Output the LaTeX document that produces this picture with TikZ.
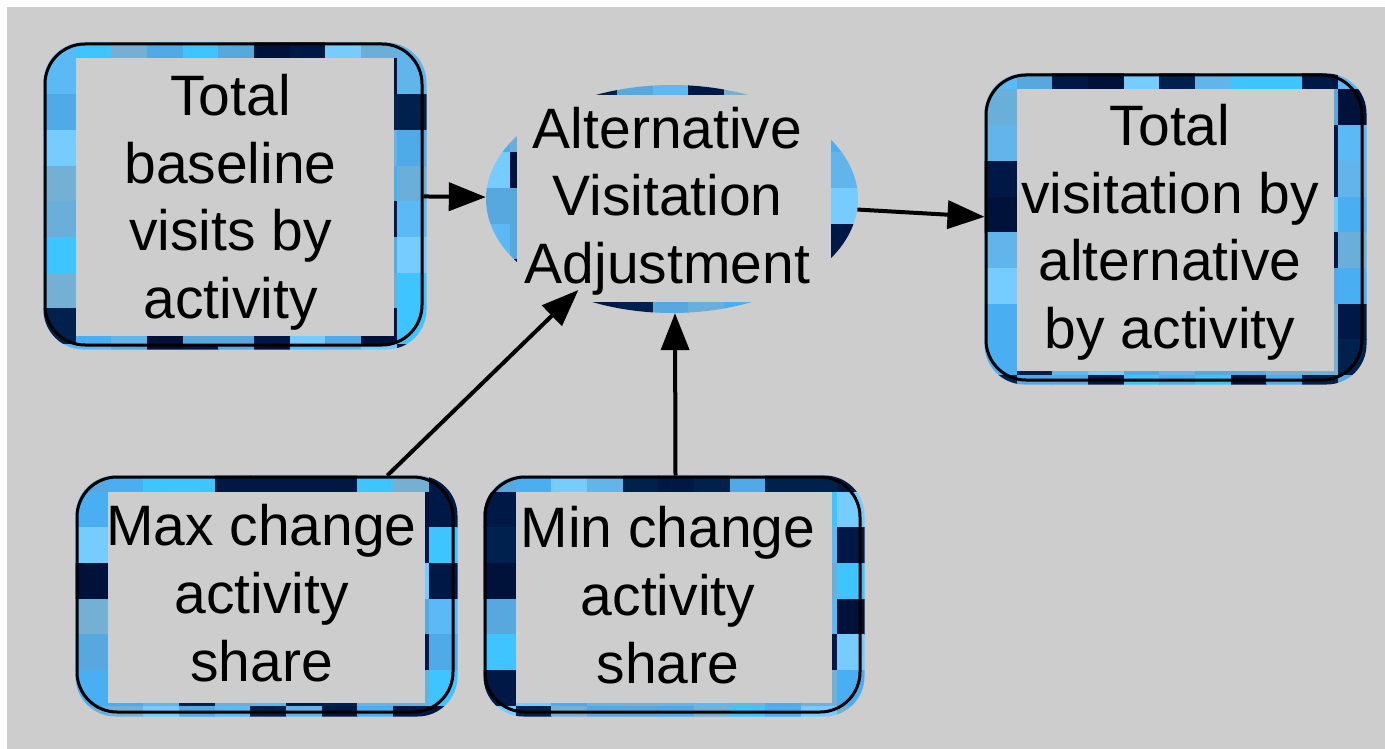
\documentclass[tikz,border=0pt]{standalone}
\usepackage{fontspec}
\setmainfont{Liberation Sans}
\usetikzlibrary{arrows.meta,shapes.geometric,backgrounds}

\definecolor{canvasgray}{HTML}{CDCDCD}
% tile palette for the patchwork borders
\definecolor{navyA}{HTML}{00113A}
\definecolor{navyB}{HTML}{001846}
\definecolor{navyC}{HTML}{00204E}
\definecolor{skyA}{HTML}{5BB9F5}
\definecolor{skyB}{HTML}{4AAEF2}
\definecolor{skyC}{HTML}{62B5EB}
\definecolor{skyD}{HTML}{6AAFDA}
\definecolor{skyE}{HTML}{3EC4FF}
\definecolor{skyF}{HTML}{76CCFF}
\definecolor{skyG}{HTML}{58A8E0}
\definecolor{skyH}{HTML}{74B0D4}
\definecolor{skyI}{HTML}{50AAE8}
\pgfmathdeclarerandomlist{tilepal}{{navyA}{navyB}{navyC}{skyA}{skyB}{skyC}{skyD}{skyE}{skyF}{skyG}{skyH}{skyI}}

% centred lines with a fixed baseline pitch; baseline = first line
\newcommand\lines[1]{\vtop{\baselineskip=68pt\lineskiplimit=-1000pt\lineskip=0pt
  \halign{\hfil##\hfil\cr#1\crcr}}}
% zero-size text box: #1 horizontal offset, #2 raise of first baseline
\newcommand\nodetext[3]{\raisebox{#2}[0pt][0pt]{\makebox[0pt]{\kern#1\lines{#3}\kern-#1}}}

% patchwork of square tiles laid under a node (#1), seed #2, grid origin (#3,#4)
\newcommand\tilefield[4]{%
  \pgfmathsetseed{#2}%
  \begin{scope}[shift={(#1.west |- #1.north)}]
    \foreach \i in {0,...,11}{\foreach \j in {0,...,9}{%
      \pgfmathrandomitem{\tilecol}{tilepal}%
      \fill[\tilecol] ({#3+35.7*\i},{#4+35.7*\j}) rectangle ++(36,36);
    }}
  \end{scope}}

% tiled rounded frame with a plain inner panel for a variable box
\newcommand\boxbacking[2]{%
  \begin{scope}
    \clip[rounded corners=40pt] (#1.north west) rectangle ([shift={(3pt,-3pt)}]#1.south east);
    \tilefield{#1}{#2}{-3.7}{-19.7}
  \end{scope}
  \fill[canvasgray] ([shift={(32pt,-16pt)}]#1.north west) rectangle ([shift={(-30pt,11pt)}]#1.south east);}

\tikzset{
  labelfont/.style={font=\fontsize{57pt}{68pt}\selectfont},
  varbox/.style={rectangle, draw=black, line width=3pt, rounded corners=40pt,
    inner sep=0pt, labelfont},
  auxnode/.style={ellipse, draw=none, inner sep=0pt, labelfont,
    minimum width=372pt, minimum height=228pt},
  link/.style={line width=4pt, -{Triangle[length=37pt,width=28pt]}}
}

\begin{document}
\begin{tikzpicture}[x=1pt,y=-1pt]
\useasboundingbox (0,0) rectangle (1385,749);

% variables
\node[varbox, minimum width=377pt, minimum height=301pt] (base) at (233.5,194.5)
  {\nodetext{-3pt}{79.5pt}{Total\cr baseline\cr visits by\cr activity}};
\node[auxnode] (adj) at (672,199)
  {\nodetext{-4.5pt}{51pt}{Alternative\cr Visitation\cr Adjustment}};
\node[varbox, minimum width=376pt, minimum height=305pt] (total) at (1174,227.5)
  {\nodetext{-4pt}{82.5pt}{Total\cr visitation by\cr alternative\cr by activity}};
\node[varbox, minimum width=376pt, minimum height=235pt] (maxc) at (265,594.5)
  {\nodetext{-3.5pt}{49.5pt}{Max change\cr activity\cr share}};
\node[varbox, minimum width=375pt, minimum height=235pt] (minc) at (672.5,594.5)
  {\nodetext{-4.5pt}{47.5pt}{Min change\cr activity\cr share}};

\coordinate (adjNW) at (adj.west |- adj.north);
\coordinate (adjSE) at (adj.east |- adj.south);

% links
\draw[link] (base) -- (adj);
\draw[link] (adj) -- (total);
\draw[link, shorten >=-8pt] (maxc) -- (adj);
\draw[link] ([xshift=3pt]minc.north) -- ([xshift=3pt]adj.south);

\begin{pgfonlayer}{background}
  \fill[white] (0,0) rectangle (1385,749);
  \fill[canvasgray] (7,7) rectangle (1385,749);
  \boxbacking{base}{11}
  \boxbacking{total}{23}
  \boxbacking{maxc}{37}
  \boxbacking{minc}{41}
  \begin{scope}
    \clip (adj.center) ellipse [x radius=186pt, y radius=114pt];
    \tilefield{adj}{5}{-11.8}{-4}
  \end{scope}
  \fill[canvasgray] ([shift={(31pt,-10pt)}]adjNW) rectangle ([shift={(-27pt,11pt)}]adjSE);
\end{pgfonlayer}
\end{tikzpicture}
\end{document}
